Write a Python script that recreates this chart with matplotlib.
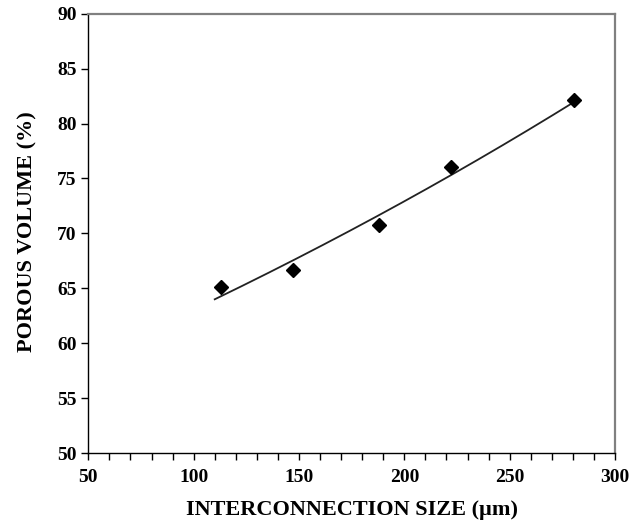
import numpy as np
import matplotlib
matplotlib.use("Agg")
import matplotlib.pyplot as plt
from matplotlib.ticker import MultipleLocator

# values
size_um = [113, 147, 188, 222, 280.5]
porous_pct = [65.15, 66.7, 70.8, 76.0, 82.1]
trend_range = [110, 280]

plt.rcParams["font.family"] = "Liberation Serif"
plt.rcParams["font.weight"] = "bold"

# exponential trend line fitted to the points (like a spreadsheet trendline)
b, ln_a = np.polyfit(size_um, np.log(porous_pct), 1)
xs = np.linspace(trend_range[0], trend_range[1], 200)
ys = np.exp(ln_a) * np.exp(b * xs)

fig = plt.figure(figsize=(6.31, 5.24), dpi=100)
ax = fig.add_axes([0.14, 0.135, 0.8346, 0.839])

ax.plot(xs, ys, color="#222222", lw=1.3)
ax.plot(size_um, porous_pct, "D", color="black", markersize=7, ls="none")

ax.set_xlim(50, 300)
ax.set_ylim(50, 90)
ax.xaxis.set_major_locator(MultipleLocator(50))
ax.xaxis.set_minor_locator(MultipleLocator(10))
ax.yaxis.set_major_locator(MultipleLocator(5))

ax.tick_params(axis="both", which="both", direction="out", labelsize=14,
               length=5, width=1)
ax.tick_params(axis="x", which="major", pad=6)
ax.tick_params(axis="y", which="major", pad=3.5)

for side in ["left", "bottom"]:
    ax.spines[side].set_color("black")
    ax.spines[side].set_linewidth(1)
for side in ["top", "right"]:
    ax.spines[side].set_color("#808080")
    ax.spines[side].set_linewidth(1.6)

ax.set_xlabel("INTERCONNECTION SIZE (µm)", fontsize=16, fontweight="bold")
ax.set_ylabel("POROUS VOLUME (%)", fontsize=16, fontweight="bold")
ax.xaxis.set_label_coords(0.5, -0.106)
ax.yaxis.set_label_coords(-0.097, 0.505)

fig.savefig("out.png", dpi=100)
